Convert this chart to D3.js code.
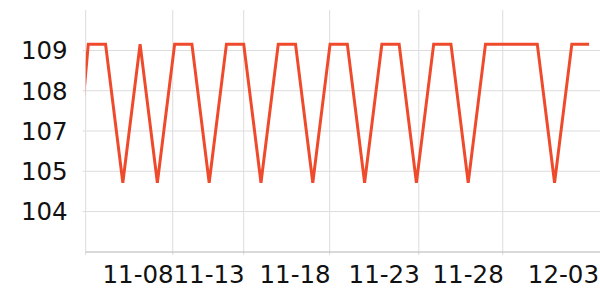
<!DOCTYPE html>
<html>
<head>
<meta charset="utf-8">
<script src="https://cdn.jsdelivr.net/npm/d3@7"></script>
<style>
  body { margin: 0; background: #fff; }
  text { font-family: "DejaVu Sans", sans-serif; font-size: 24.5px; fill: #111; }
</style>
</head>
<body>
<div id="chart"></div>
<script>
//////////
// Data //
//////////

// one value per step, step -1 sits just left of the plot and gets clipped
var steps = d3.range(-1, 30);
var values = [103.2,
  109.18, 109.18, 104.88, 109.18, 104.88, 109.18, 109.18, 104.88, 109.18, 109.18,
  104.88, 109.18, 109.18, 104.88, 109.18, 109.18, 104.88, 109.18, 109.18, 104.88,
  109.18, 109.18, 104.88, 109.18, 109.18, 109.18, 109.18, 104.88, 109.18, 109.18];

// x ticks (in steps) and their date labels
var tickSteps = [4.86, 8.97, 13.95, 19.11, 23.97, 29.66];
var tickLabels = ["11-08", "11-13", "11-18", "11-23", "11-28", "12-03"];

// y ticks, printed rounded
var yTicks = [104, 105.25, 106.5, 107.75, 109];

///////////
// Setup //
///////////

var margin = {top: 10, right: -0.5, bottom: 48, left: 85.7};
var width = 600 - margin.left - margin.right;
var height = 300 - margin.top - margin.bottom;

var xScale = d3.scaleLinear().domain([-0.15, 29.66]).range([0, width]),
    yScale = d3.scaleLinear().domain([102.73, 110.24]).range([height, 0]);

var svg = d3.select("#chart").append("svg")
    .attr("width", 600)
    .attr("height", 300)
  .append("g")
    .attr("transform", "translate(" + margin.left + "," + margin.top + ")");

svg.append("clipPath")
    .attr("id", "clip")
  .append("rect")
    .attr("width", width)
    .attr("height", height);

// horizontal grid + y labels
var yAxis = d3.axisLeft(yScale)
    .tickValues(yTicks)
    .tickSize(-width - 3)
    .tickFormat(d3.format(".0f"));

var gy = svg.append("g")
    .attr("transform", "translate(-3,0)")
    .call(yAxis);
gy.select(".domain").remove();
gy.selectAll(".tick line").attr("stroke", "#dcdcdc");
gy.selectAll(".tick text").attr("x", -15).attr("dy", "0.36em");

// vertical grid + x labels
var xAxis = d3.axisBottom(xScale)
    .tickValues(tickSteps)
    .tickSize(3)
    .tickFormat(function(d, i) { return tickLabels[i]; });

var gx = svg.append("g")
    .attr("transform", "translate(0," + height + ")")
    .call(xAxis);
gx.select(".domain").remove();
gx.selectAll(".tick line").attr("stroke", "#dcdcdc").attr("y1", -height);
gx.selectAll(".tick text")
    .attr("text-anchor", "end")
    .attr("y", 31)
    .attr("dy", 0)
    .attr("dx", function(d, i) { return i == tickLabels.length - 1 ? -2 : 1; });

// left axis line
svg.append("line")
    .attr("x1", 0).attr("x2", 0)
    .attr("y1", 0).attr("y2", height + 3)
    .attr("stroke", "#dcdcdc");

// bottom axis line
svg.append("line")
    .attr("x1", 0).attr("x2", width)
    .attr("y1", height).attr("y2", height)
    .attr("stroke", "#b4b4b4");

// the series
var line = d3.line()
    .x(function(d, i) { return xScale(steps[i]); })
    .y(function(d) { return yScale(d); });

svg.append("path")
    .datum(values)
    .attr("clip-path", "url(#clip)")
    .attr("fill", "none")
    .attr("stroke", "#ef4a2b")
    .attr("stroke-width", 3)
    .attr("d", line);
</script>
</body>
</html>
